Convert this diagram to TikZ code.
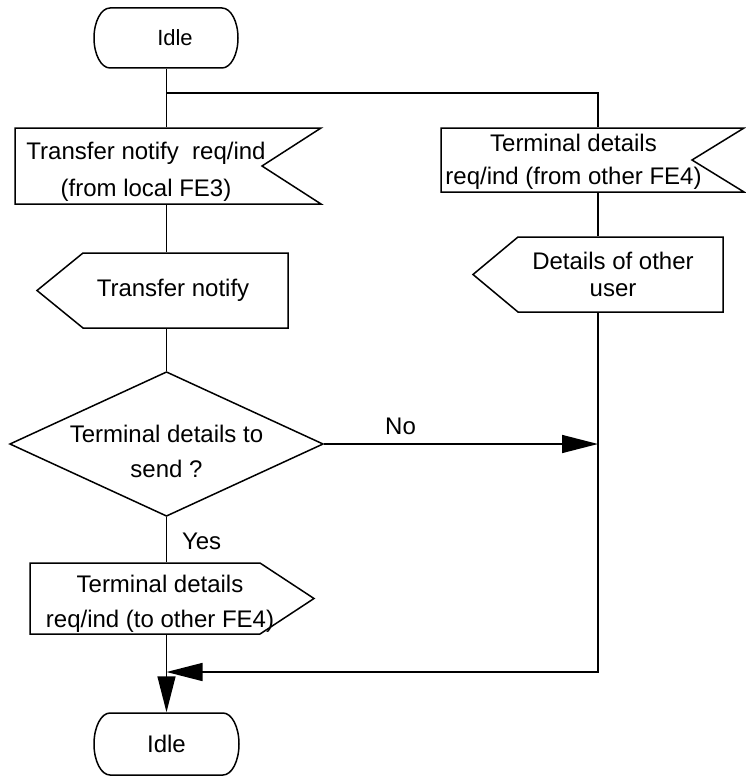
\documentclass[tikz,border=0pt]{standalone}
\usepackage{fontspec}
\setmainfont{Liberation Sans}
\usetikzlibrary{arrows.meta}

% extra height on a first line, pushes the text block down
\newcommand{\padtop}[1]{\rule{0pt}{#1}}

\tikzset{
	body/.style={inner sep=0.75pt, align=center, font=\fontsize{24}{34}\selectfont},
	lbl/.style={inner sep=0.75pt, font=\fontsize{24}{34}\selectfont},
	flow/.style={-{Triangle[length=36pt,width=18pt]}},
}

\begin{document}
\begin{tikzpicture}[x=1pt,y=1pt,yscale=-1,xscale=1,line width=1.5pt]
	\useasboundingbox (0,0) rectangle (745,776);

	%Shape: Idle (top)
	\draw (110,8) -- (222,8) arc[start angle=-90,end angle=90,x radius=16,y radius=30] -- (110,68) arc[start angle=90,end angle=270,x radius=16,y radius=30] -- cycle;
	%Shape: input signal (from local FE3)
	\draw (15,128) -- (321,128) -- (262,166) -- (321,204) -- (15,204) -- cycle;
	%Shape: input signal (from other FE4)
	\draw (441,128) -- (744,128) -- (692,160) -- (744,192) -- (441,192) -- cycle;
	%Shape: output signal (Transfer notify)
	\draw (288,253) -- (83,253) -- (37,290.5) -- (83,328) -- (288,328) -- cycle;
	%Shape: output signal (Details of other user)
	\draw (723,237) -- (518,237) -- (473,274.5) -- (518,312) -- (723,312) -- cycle;
	%Shape: decision
	\draw (166.5,372) -- (323,444) -- (166.5,516) -- (10,444) -- cycle;
	%Shape: output signal (to other FE4)
	\draw (30,563) -- (260,563) -- (314,598.5) -- (260,634) -- (30,634) -- cycle;
	%Shape: Idle (bottom)
	\draw (110,713) -- (223,713) arc[start angle=-90,end angle=90,x radius=16,y radius=31] -- (110,775) arc[start angle=90,end angle=270,x radius=16,y radius=31] -- cycle;

	% Flow lines
	\coordinate (lcol) at (166.5,0);
	\coordinate (rcol) at (598,0);
	\coordinate (fork) at (166.5,93);
	\coordinate (join) at (166.5,672);

	% Text Node
	\node [body, font=\fontsize{22}{30}\selectfont, minimum width=143pt, minimum height=60pt] (idle1) at (166.5,38) {\hspace*{17pt}Idle};
	% Text Node
	\node [body, minimum width=262pt, minimum height=76pt] (recv1) at (146,166) {\padtop{29pt}Transfer notify~ req/ind\\[3pt](from local FE3)};
	% Text Node
	\node [body, minimum width=265pt, minimum height=64pt] (recv2) at (573.5,160) {\padtop{21pt}Terminal details\\[-1pt]req/ind (from other FE4)};
	% Text Node
	\node [body, minimum width=230pt, minimum height=75pt] (send1) at (173,290.5) {Transfer notify};
	% Text Node
	\node [body, minimum width=220pt, minimum height=75pt] (send2) at (613,274.5) {Details of other\\[-7pt]user};
	% Text Node
	\node [body, minimum width=313pt, minimum height=144pt] (dec) at (166.5,444) {\padtop{33pt}Terminal details to\\[1pt]send ?};
	% Text Node
	\node [body, minimum width=260pt, minimum height=71pt] (send3) at (160,598.5) {\padtop{28pt}Terminal details\\[1pt]req/ind (to other FE4)};
	% Text Node
	\node [body, minimum width=145pt, minimum height=62pt] (idle2) at (166.5,744) {Idle};

	%Straight Lines
	\draw (idle1.south) -- (recv1.north -| lcol);
	\draw (fork) -| (recv2.north -| rcol);
	\draw (recv1.south -| lcol) -- (send1.north -| lcol);
	\draw (send1.south -| lcol) -- (dec.north);
	\draw (dec.south) -- node [lbl, right=14pt, pos=0.55] {Yes} (send3.north -| lcol);
	\draw [flow] (dec.east) -- node [lbl, above=8pt, pos=0.28] {No} (dec.east -| rcol);
	\draw (recv2.south -| rcol) -- (send2.north -| rcol);
	\draw [flow] (send2.south -| rcol) |- (join);
	\draw [flow] (send3.south -| lcol) -- (idle2.north);

\end{tikzpicture}
\end{document}
